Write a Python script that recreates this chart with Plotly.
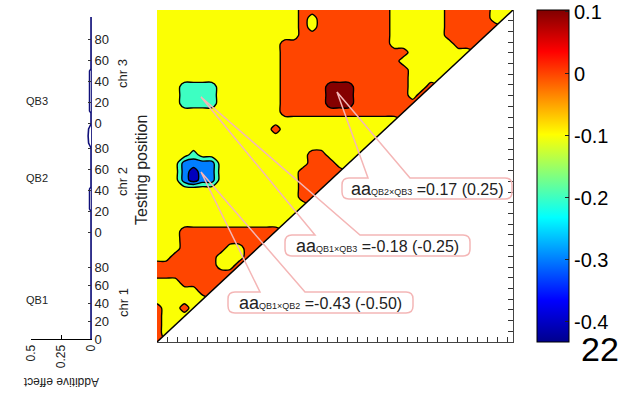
import plotly.graph_objects as go
import numpy as np

W, H = 634, 403

# ---------------- data: additive-effect panel ----------------
chr_names = ["chr 1", "chr 2", "chr 3"]
chr_start = [0, 107, 216]            # cumulative start of each chromosome on the axis
chr_scale = [0.9, 1.05, 1.04]        # axis units per cM for each chromosome
chr_label_at = [37, 51, 50]          # where the "chr k" label sits (axis units from start)
pos_ticks = [0, 20, 40, 60, 80]
qtl_names = ["QB1", "QB2", "QB3"]
qtl_pos = [39, 161, 238]
add_pos = [0, 128, 130, 150, 152, 191, 196, 203, 210, 215, 226, 228, 268, 270, 322]
add_eff = [0, 0, 0.012, 0.012, 0, 0, 0.02, 0.024, 0.02, 0, 0, 0.012, 0.012, 0, 0]
add_ticks = [0.5, 0.25, 0]
add_ticktext = ["0.5", "0.25", "0"]

# ---------------- data: epistasis map (level codes, top row first) ----------------
level_values = {"D": -0.4, "B": -0.3, "A": -0.2, "Y": -0.1, "O": 0.0, "R": 0.1}
epi_rows = [
    "16Y 10O 6Y 5O 3Y",
    "16Y 1O 1Y 8O 6Y 5O 2Y",
    "16Y 1O 1Y 8O 6Y 6O",
    "16Y 10O 6Y 5O",
    "14Y 12O 7Y 3O",
    "14Y 14O 7Y",
    "14Y 13O 7Y",
    "14Y 14O 5Y",
    "14Y 14O 4Y",
    "3Y 4A 7Y 5O 3R 6O 2Y 1O",
    "3Y 4A 7Y 5O 3R 6O 1Y 1O",
    "3Y 4A 7Y 5O 3R 7O",
    "14Y 14O",
    "27Y",
    "13Y 1O 12Y",
    "25Y",
    "24Y",
    "4Y 1A 12Y 2O 4Y",
    "3Y 4B 10Y 3O 2Y",
    "3Y 1B 1D 2B 9Y 5O",
    "3Y 1B 1D 2B 9Y 4O",
    "16Y 3O",
    "16Y 2O",
    "17Y",
    "16Y",
    "15Y",
    "3Y 11O",
    "3Y 10O",
    "3Y 5O 2Y 2O",
    "2Y 5O 3Y 1O",
    "7O 2Y 1O",
    "9O",
    "3Y 5O",
    "5Y 2O",
    "6Y",
    "1O 2Y 1O 1Y",
    "1O 3Y",
    "1O 2Y",
    "1O 1Y",
    "1O",
]
N = len(epi_rows)
X_MAX, Y_MAX = 356, 310
cbar_ticks = [0.1, 0, -0.1, -0.2, -0.3, -0.4]
cbar_ticktext = ["0.1", "0", "-0.1", "-0.2", "-0.3", "-0.4"]
cbar_range = [-0.433, 0.103]
epi_pairs = [("QB2", "QB3"), ("QB1", "QB3"), ("QB1", "QB2")]
epi_est = ["0.17", "-0.18", "-0.43"]
epi_true = ["0.25", "-0.25", "-0.50"]

# ---------------- build grid ----------------
z_top = []
for s in epi_rows:
    row = []
    for tok in s.split():
        row += [level_values[tok[-1]]] * int(tok[:-1])
    row = row[:N] + [None] * (N - len(row))
    z_top.append(row)
z = z_top[::-1]
gx = np.linspace(0, X_MAX, N)
gy = np.linspace(0, Y_MAX, N)


def jet(t):
    t = min(max(t, 0.0), 1.0)
    r = min(max(1.5 - abs(4 * t - 3), 0), 1)
    g = min(max(1.5 - abs(4 * t - 2), 0), 1)
    b = min(max(1.5 - abs(4 * t - 1), 0), 1)
    return "rgb(%d,%d,%d)" % (round(r * 255), round(g * 255), round(b * 255))


lv = sorted(level_values.values())
span = cbar_range[1] - cbar_range[0]
contour_scale = [[i / (len(lv) - 1), jet((v - cbar_range[0]) / span)] for i, v in enumerate(lv)]
jet_scale = [[0, "rgb(0,0,140)"], [0.125, "rgb(0,0,255)"], [0.375, "rgb(0,255,255)"],
             [0.625, "rgb(255,255,0)"], [0.875, "rgb(255,0,0)"], [1, "rgb(128,0,0)"]]

FONT = "Liberation Sans, Arial, sans-serif"
fig = go.Figure()

# additive effect curve
fig.add_trace(go.Scatter(x=add_eff, y=add_pos, mode="lines", xaxis="x", yaxis="y",
                         line=dict(color="#10107a", width=1.6), cliponaxis=False,
                         hoverinfo="skip"))

# epistasis contour
fig.add_trace(go.Contour(x=gx, y=gy, z=z, xaxis="x2", yaxis="y2",
                         autocontour=False,
                         contours=dict(start=-0.35, end=0.05, size=0.1, coloring="fill",
                                       showlines=True),
                         line=dict(color="black", width=1.4, smoothing=0.8),
                         colorscale=contour_scale, showscale=False, hoverinfo="skip"))

# blank lower-right triangle
fig.add_trace(go.Scatter(x=[gx[0], gx[-1], gx[-1], gx[0]], y=[gy[0], gy[0], gy[-1], gy[0]],
                         mode="lines", fill="toself", fillcolor="white",
                         line=dict(width=0, color="white"), xaxis="x2", yaxis="y2",
                         hoverinfo="skip"))
fig.add_trace(go.Scatter(x=[gx[0], gx[-1]], y=[gy[0], gy[-1]], mode="lines",
                         line=dict(color="black", width=1.5), xaxis="x2", yaxis="y2",
                         hoverinfo="skip"))

# colorbar carrier
fig.add_trace(go.Scatter(x=[None], y=[None], mode="markers", xaxis="x2", yaxis="y2",
                         marker=dict(color=[cbar_range[0]], cmin=cbar_range[0], cmax=cbar_range[1],
                                     colorscale=jet_scale, showscale=True,
                                     colorbar=dict(x=537 / W, xanchor="left", xpad=0, ypad=0,
                                                   y=1 - 176 / H, yanchor="middle",
                                                   len=332, lenmode="pixels",
                                                   thickness=32, thicknessmode="pixels",
                                                   outlinecolor="black", outlinewidth=1,
                                                   tickvals=cbar_ticks, ticktext=cbar_ticktext,
                                                   ticks="inside", ticklen=4, tickcolor="#222",
                                                   ticklabeloverflow="allow",
                                                   tickfont=dict(size=20, color="black", family=FONT))),
                         hoverinfo="skip"))

# ---------------- layout ----------------
ytickvals, yticktext = [], []
for k in range(3):
    for p in pos_ticks:
        ytickvals.append(chr_start[k] + p * chr_scale[k])
        yticktext.append(str(p))

fig.update_layout(
    template="none",
    width=W, height=H, autosize=False, showlegend=False,
    margin=dict(l=0, r=0, t=0, b=0, pad=0),
    paper_bgcolor="white", plot_bgcolor="white",
    font=dict(family=FONT, color="#222"),
    xaxis=dict(domain=[31 / W, 91 / W], range=[0.5, 0], anchor="y", automargin=False,
               tickvals=add_ticks, ticktext=add_ticktext, tickangle=-90,
               ticks="inside", ticklen=4, tickcolor="black",
               showline=True, linecolor="black", linewidth=1,
               showgrid=False, zeroline=False, tickfont=dict(size=12, color="#222")),
    yaxis=dict(domain=[(H - 339) / H, (H - 17) / H], range=[0, 322], anchor="x", side="right",
               automargin=False,
               tickvals=ytickvals, ticktext=yticktext, ticks="inside", ticklen=3,
               tickcolor="#333", showline=True, linecolor="#30308a", linewidth=1,
               showgrid=False, zeroline=False, tickfont=dict(size=13, color="#222")),
    xaxis2=dict(domain=[157 / W, 513 / W], range=[0, X_MAX], anchor="y2", automargin=False,
                ticks="inside", ticklen=5, tickcolor="#333", dtick=10, tick0=0,
                showticklabels=False, showline=True, linecolor="#444", linewidth=1,
                showgrid=False, zeroline=False),
    yaxis2=dict(domain=[(H - 342) / H, (H - 10) / H], range=[0, Y_MAX], anchor="x2", side="right",
                automargin=False,
                ticks="inside", ticklen=5, tickcolor="#333", dtick=10, tick0=0,
                showticklabels=False, showline=True, linecolor="#444", linewidth=1,
                showgrid=False, zeroline=False),
)


def txt_ann(x, y, text, size, xref="paper", yref="paper", angle=0, color="#222"):
    return dict(x=x, y=y, xref=xref, yref=yref, text=text, showarrow=False, textangle=angle,
                xanchor="center", yanchor="middle", font=dict(size=size, color=color))


ann = []
for name, p in zip(qtl_names, qtl_pos):
    ann.append(txt_ann(37 / W, p, name, 11, yref="y"))
for k, name in enumerate(chr_names):
    ann.append(txt_ann(123 / W, chr_start[k] + chr_label_at[k], name, 13, yref="y", angle=-90))
ann.append(txt_ann(61 / W, 1 - 382 / H, "Additive effect", 12, angle=180))
ann.append(txt_ann(141 / W, 1 - 170 / H, "Testing position", 16, angle=-90))
ann.append(txt_ann(600 / W, 1 - 349 / H, "22", 34, color="black"))


def px(v):
    return v / W


def py(v):
    return 1 - v / H


def callout(x0, y0, x1, y1, tip, bl, br, r=7):
    return ("M {a},{b} L {c},{b} L {tx},{ty} L {d},{b} L {e},{b} Q {f},{b} {f},{g} "
            "L {f},{h} Q {f},{i} {e},{i} L {a},{i} Q {j},{i} {j},{h} L {j},{g} Q {j},{b} {a},{b} Z").format(
        a=px(x0 + r), b=py(y0), c=px(bl), tx=px(tip[0]), ty=py(tip[1]), d=px(br),
        e=px(x1 - r), f=px(x1), g=py(y0 + r), h=py(y1 - r), i=py(y1), j=px(x0))


boxes = [
    (342, 178, 512, 199, (337, 92), 368, 410),
    (285, 235, 470, 256, (201, 97), 315, 360),
    (228, 292, 413, 313, (201, 172), 260, 305),
]
PINK = "#f4b6b6"
shapes = []
for (x0, y0, x1, y1, tip, bl, br), (q1, q2), est, tru in zip(boxes, epi_pairs, epi_est, epi_true):
    shapes.append(dict(type="path", path=callout(x0, y0, x1, y1, tip, bl, br),
                       xref="paper", yref="paper", line=dict(color=PINK, width=1.5),
                       fillcolor="rgba(0,0,0,0)", layer="above"))
    txt = ("<span style='font-size:18px'>aa</span><span style='font-size:9px'>%s×%s</span>"
           " =%s (%s)" % (q1, q2, est, tru))
    ann.append(txt_ann(px((x0 + x1) / 2), py((y0 + y1) / 2), txt, 16))

fig.update_layout(annotations=ann, shapes=shapes)
fig.write_html("out.html")
